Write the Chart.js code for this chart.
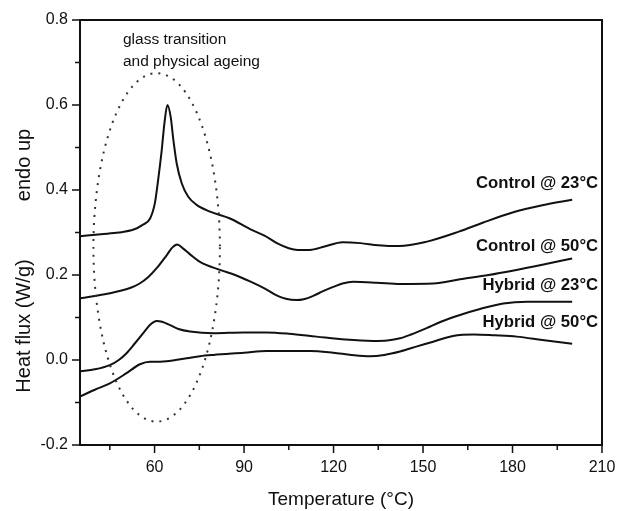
<!DOCTYPE html>
<html>
<head>
<meta charset="utf-8">
<script src="https://cdn.jsdelivr.net/npm/chart.js@4.4.1/dist/chart.umd.min.js"></script>
<style>
  html, body { margin: 0; padding: 0; background: #fff; }
  #chart { display: block; }
</style>
</head>
<body>
<canvas id="chart" width="618" height="511"></canvas>
<script>
// DSC curves (temperature in °C, heat flux in W/g)
const c23Temp = [35, 42, 48, 53, 56, 58.5, 60.1, 61.2, 62.4, 63.3, 64.3, 65.4, 66.3, 67.4, 69.1, 71.3, 74.1, 78.6, 85.3, 92, 97, 101, 105, 108, 112, 117, 123, 129, 135, 142, 151, 162, 170, 180, 190, 200];
const c23Flux = [0.291, 0.296, 0.300, 0.307, 0.318, 0.333, 0.369, 0.424, 0.494, 0.557, 0.600, 0.572, 0.518, 0.463, 0.416, 0.384, 0.365, 0.349, 0.333, 0.308, 0.292, 0.275, 0.263, 0.259, 0.259, 0.267, 0.277, 0.275, 0.270, 0.268, 0.278, 0.302, 0.323, 0.347, 0.364, 0.377];

const c50Temp = [35, 45, 52, 55, 58, 60.7, 64.1, 66, 67.6, 69.6, 72, 75.2, 81.9, 87, 92, 97, 100.9, 104, 107.6, 110, 113.2, 116.5, 119.9, 123, 126.6, 134.5, 142.3, 153.4, 162.4, 172, 180, 190, 200];
const c50Flux = [0.145, 0.157, 0.170, 0.180, 0.196, 0.216, 0.247, 0.265, 0.272, 0.262, 0.248, 0.231, 0.212, 0.200, 0.185, 0.168, 0.152, 0.144, 0.141, 0.143, 0.151, 0.162, 0.172, 0.180, 0.184, 0.182, 0.179, 0.180, 0.190, 0.200, 0.210, 0.224, 0.239];

const h23Temp = [35, 40, 45, 48, 50.6, 53.5, 56.2, 58.5, 60.7, 62.5, 65.2, 68, 71.9, 79.7, 90, 97.6, 105, 114.3, 124, 133.3, 138, 142.3, 146, 151.2, 156, 162.4, 169.1, 176.9, 185, 200];
const h23Flux = [-0.027, -0.022, -0.012, 0.000, 0.016, 0.040, 0.063, 0.083, 0.092, 0.090, 0.082, 0.073, 0.067, 0.063, 0.065, 0.065, 0.062, 0.055, 0.048, 0.045, 0.046, 0.051, 0.060, 0.075, 0.090, 0.106, 0.120, 0.133, 0.137, 0.137];

const h50Temp = [35, 40, 45, 50.6, 55.1, 58.5, 62, 64, 67, 70.8, 75.2, 79.7, 90, 97.6, 106.5, 112.1, 119.9, 126, 132.2, 137, 142.3, 148, 153.4, 158, 162.4, 167, 174, 181.4, 190, 200];
const h50Flux = [-0.086, -0.070, -0.055, -0.031, -0.010, -0.004, -0.004, -0.003, 0.000, 0.004, 0.009, 0.012, 0.017, 0.021, 0.021, 0.021, 0.017, 0.012, 0.009, 0.012, 0.020, 0.032, 0.043, 0.053, 0.059, 0.060, 0.058, 0.055, 0.047, 0.038];

const seriesNames = ["Control @ 23°C", "Control @ 50°C", "Hybrid @ 23°C", "Hybrid @ 50°C"];
const nameFlux = [0.416, 0.267, 0.176, 0.088];   // where each curve label sits

const xTickValues = [45, 60, 75, 90, 105, 120, 135, 150, 165, 180, 195, 210];
const xTickLabels = [60, 90, 120, 150, 180, 210];
const yTickValues = [-0.2, -0.1, 0, 0.1, 0.2, 0.3, 0.4, 0.5, 0.6, 0.7, 0.8];
const yTickLabels = [-0.2, 0, 0.2, 0.4, 0.6, 0.8];

// dotted ellipse around the glass transition region
const ellipseCenter = [60.7, 0.265];
const ellipseRadius = [21.2, 0.41];
const noteLines = ["glass transition", "and physical ageing"];

const FONT = "'Liberation Sans', Arial, Helvetica, sans-serif";
const INK = "#111";

const toPoints = (xs, ys) => xs.map((x, i) => ({ x, y: ys[i] }));
const hasValue = (list, v) => list.some(t => Math.abs(t - v) < 1e-6);

const curve = (label, xs, ys) => ({
  label,
  data: toPoints(xs, ys),
  borderColor: INK,
  borderWidth: 2,
  pointRadius: 0,
  fill: false,
  cubicInterpolationMode: "monotone"
});

const extras = {
  id: "extras",
  afterDatasetsDraw(chart) {
    const { ctx, chartArea: a, scales: { x, y } } = chart;
    ctx.save();

    // frame top / right
    ctx.strokeStyle = INK;
    ctx.lineWidth = 2;
    ctx.beginPath();
    ctx.moveTo(a.left, a.top);
    ctx.lineTo(a.right, a.top);
    ctx.lineTo(a.right, a.bottom);
    ctx.stroke();

    // tick marks, outward
    ctx.lineWidth = 1.5;
    ctx.beginPath();
    x.ticks.forEach(t => {
      const px = x.getPixelForValue(t.value);
      const len = hasValue(xTickLabels, t.value) ? 8 : 5;
      ctx.moveTo(px, a.bottom);
      ctx.lineTo(px, a.bottom + len);
    });
    y.ticks.forEach(t => {
      const py = y.getPixelForValue(t.value);
      const len = hasValue(yTickLabels, t.value) ? 8 : 5;
      ctx.moveTo(a.left, py);
      ctx.lineTo(a.left - len, py);
    });
    ctx.stroke();

    // dotted ellipse
    const cx = x.getPixelForValue(ellipseCenter[0]);
    const cy = y.getPixelForValue(ellipseCenter[1]);
    const rx = x.getPixelForValue(ellipseCenter[0] + ellipseRadius[0]) - cx;
    const ry = cy - y.getPixelForValue(ellipseCenter[1] + ellipseRadius[1]);
    ctx.strokeStyle = "#333";
    ctx.lineWidth = 2;
    ctx.setLineDash([2, 6]);
    ctx.beginPath();
    ctx.ellipse(cx, cy, rx, ry, 0, 0, Math.PI * 2);
    ctx.stroke();
    ctx.setLineDash([]);

    // note text
    ctx.fillStyle = INK;
    ctx.font = "15.5px " + FONT;
    ctx.textAlign = "left";
    ctx.textBaseline = "middle";
    ctx.fillText(noteLines[0], x.getPixelForValue(49.4), y.getPixelForValue(0.753));
    ctx.fillText(noteLines[1], x.getPixelForValue(49.4), y.getPixelForValue(0.701));

    // curve labels
    ctx.font = "bold 16.7px " + FONT;
    ctx.textAlign = "right";
    seriesNames.forEach((n, i) => {
      ctx.fillText(n, x.getPixelForValue(208.7), y.getPixelForValue(nameFlux[i]));
    });

    // axis titles
    ctx.font = "19px " + FONT;
    ctx.textAlign = "center";
    ctx.fillText("Temperature (°C)", (a.left + a.right) / 2, 500);

    ctx.font = "20px " + FONT;
    ctx.textBaseline = "alphabetic";
    ctx.translate(30, 0);
    ctx.rotate(-Math.PI / 2);
    ctx.fillText("Heat flux (W/g)", -326, 0);
    ctx.fillText("endo up", -165, 0);

    ctx.restore();
  }
};

new Chart(document.getElementById("chart"), {
  type: "line",
  data: {
    datasets: [
      curve(seriesNames[0], c23Temp, c23Flux),
      curve(seriesNames[1], c50Temp, c50Flux),
      curve(seriesNames[2], h23Temp, h23Flux),
      curve(seriesNames[3], h50Temp, h50Flux)
    ]
  },
  options: {
    responsive: false,
    animation: false,
    devicePixelRatio: 1,
    layout: { padding: { top: 20, right: 16, left: 0, bottom: 0 } },
    plugins: {
      legend: { display: false },
      tooltip: { enabled: false }
    },
    scales: {
      x: {
        type: "linear",
        min: 35,
        max: 210,
        afterBuildTicks: s => { s.ticks = xTickValues.map(v => ({ value: v })); },
        afterFit: s => { s.height = 66; s.paddingLeft = 0; s.paddingRight = 0; },
        grid: { drawOnChartArea: false, drawTicks: false, color: "transparent" },
        border: { display: true, color: INK, width: 2 },
        ticks: {
          autoSkip: false,
          maxRotation: 0,
          padding: 13,
          color: INK,
          font: { size: 16, family: FONT },
          callback: v => (hasValue(xTickLabels, v) ? String(v) : "")
        }
      },
      y: {
        type: "linear",
        min: -0.2,
        max: 0.8,
        afterBuildTicks: s => { s.ticks = yTickValues.map(v => ({ value: v })); },
        afterFit: s => { s.width = 80; s.paddingTop = 0; s.paddingBottom = 0; },
        grid: { drawOnChartArea: false, drawTicks: false, color: "transparent" },
        border: { display: true, color: INK, width: 2 },
        ticks: {
          autoSkip: false,
          padding: 12,
          color: INK,
          font: { size: 16, family: FONT },
          callback: v => (hasValue(yTickLabels, v) ? v.toFixed(1) : "")
        }
      }
    }
  },
  plugins: [extras]
});
</script>
</body>
</html>
